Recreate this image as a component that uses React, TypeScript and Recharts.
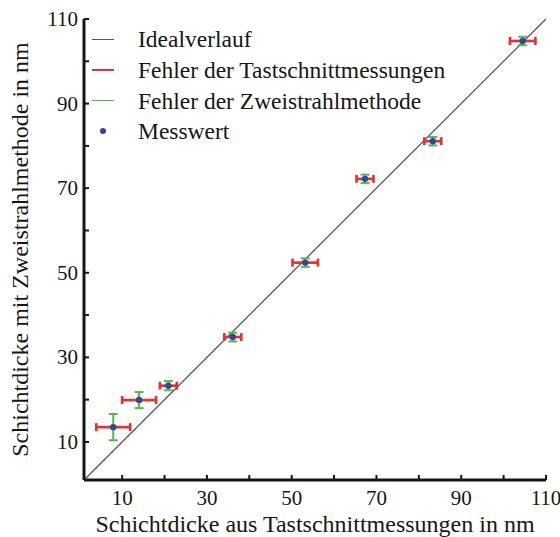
import { ScatterChart, Scatter, XAxis, YAxis, ErrorBar, ReferenceLine } from 'recharts';

// Tastschnitt (x) vs. Zweistrahlmethode (y), in nm
const tastschnitt = [7.9, 14, 20.9, 36.1, 53.2, 67.3, 83.3, 104.5];
const zweistrahl = [13.5, 19.9, 23.3, 34.8, 52.4, 72.2, 81.1, 104.8];
const fehlerTast = [4, 4, 2, 2, 3, 2, 2, 3];
const fehlerZwei = [3.1, 1.9, 1.1, 1.05, 1, 1, 1, 1];

const ticks = [10, 20, 30, 40, 50, 60, 70, 80, 90, 100, 110];
const domain: [number, number] = [1, 110];

const data = tastschnitt.map((x, i) => ({
  x,
  y: zweistrahl[i],
  ex: fehlerTast[i],
  ey: fehlerZwei[i],
}));

const FONT = '"Liberation Serif", "DejaVu Serif", serif';
const INK = '#161616';
const RED = '#e03535';
const GREEN = '#55b84a';
const BLUE = '#33479a';

const legendItems = [
  { label: 'Idealverlauf', color: '#555', kind: 'line' },
  { label: 'Fehler der Tastschnittmessungen', color: RED, kind: 'line' },
  { label: 'Fehler der Zweistrahlmethode', color: GREEN, kind: 'line' },
  { label: 'Messwert', color: BLUE, kind: 'dot' },
];

const label = (v: number) => v % 20 === 10;

function BottomTick({ x, y, payload }: any) {
  return (
    <g>
      <line x1={x} y1={y} x2={x} y2={y - 5} stroke={INK} strokeWidth={2} />
      {label(payload.value) && (
        <text x={x} y={y + 25} textAnchor="middle" fontSize={21} style={{ fontFamily: FONT }} fill={INK}>
          {payload.value}
        </text>
      )}
    </g>
  );
}

function LeftTick({ x, y, payload }: any) {
  return (
    <g>
      <line x1={x} y1={y} x2={x + 5} y2={y} stroke={INK} strokeWidth={2} />
      {label(payload.value) && (
        <text x={x - 6} y={y + 7} textAnchor="end" fontSize={21} style={{ fontFamily: FONT }} fill={INK}>
          {payload.value}
        </text>
      )}
    </g>
  );
}

function TopTick({ x, y }: any) {
  return <line x1={x} y1={y} x2={x} y2={y + 5} stroke={INK} strokeWidth={2} />;
}

function RightTick({ x, y }: any) {
  return <line x1={x} y1={y} x2={x - 5} y2={y} stroke={INK} strokeWidth={2} />;
}

function Dot({ cx, cy }: any) {
  return <circle cx={cx} cy={cy} r={3.2} fill={BLUE} />;
}

export default function App() {
  return (
    <div style={{ position: 'absolute', left: 0, top: 0, width: 560, height: 537, background: '#fff', fontFamily: FONT }}>
      <ScatterChart width={560} height={537} margin={{ top: 19, right: 14, bottom: 0, left: 0 }}>
        <XAxis
          xAxisId="b"
          type="number"
          dataKey="x"
          domain={domain}
          ticks={ticks}
          interval={0}
          height={57}
          tickSize={0}
          tickMargin={0}
          tick={<BottomTick />}
          axisLine={{ stroke: INK, strokeWidth: 3 }}
          label={{
            value: 'Schichtdicke aus Tastschnittmessungen in nm',
            position: 'insideBottom',
            offset: 5,
            fill: INK,
            fontSize: 24,
            style: { fontFamily: FONT },
          }}
        />
        <XAxis
          xAxisId="t"
          orientation="top"
          type="number"
          domain={domain}
          ticks={ticks}
          interval={0}
          height={0}
          tickSize={0}
          tickMargin={0}
          tick={<TopTick />}
          axisLine={{ stroke: INK, strokeWidth: 3 }}
        />
        <YAxis
          yAxisId="l"
          type="number"
          dataKey="y"
          domain={domain}
          ticks={ticks}
          interval={0}
          width={84}
          tickSize={0}
          tickMargin={0}
          tick={<LeftTick />}
          axisLine={{ stroke: INK, strokeWidth: 3 }}
          label={{
            value: 'Schichtdicke mit Zweistrahlmethode in nm',
            angle: -90,
            position: 'insideLeft',
            offset: 19.5,
            fill: INK,
            fontSize: 24,
            style: { textAnchor: 'middle', fontFamily: FONT },
          }}
        />
        <YAxis
          yAxisId="r"
          orientation="right"
          type="number"
          domain={domain}
          ticks={ticks}
          interval={0}
          width={0}
          tickSize={0}
          tickMargin={0}
          tick={<RightTick />}
          axisLine={{ stroke: INK, strokeWidth: 3 }}
        />
        <ReferenceLine
          xAxisId="b"
          yAxisId="l"
          segment={[{ x: 1, y: 1 }, { x: 110, y: 110 }]}
          stroke="#555"
          strokeWidth={1.3}
        />
        <Scatter xAxisId="b" yAxisId="l" data={data} shape={<Dot />} isAnimationActive={false}>
          <ErrorBar dataKey="ey" direction="y" stroke={GREEN} strokeWidth={2} width={4.5} />
          <ErrorBar dataKey="ex" direction="x" stroke={RED} strokeWidth={2.7} width={4} />
        </Scatter>
      </ScatterChart>
      <div style={{ position: 'absolute', left: 92, top: 24, fontFamily: FONT, fontSize: 23.5, color: INK }}>
        {legendItems.map((it) => (
          <div key={it.label} style={{ display: 'flex', alignItems: 'center', height: 30.7 }}>
            <div style={{ width: 22, display: 'flex', justifyContent: 'center', marginRight: 24 }}>
              {it.kind === 'line' ? (
                <div style={{ width: 22, height: 1.5, background: it.color }} />
              ) : (
                <div style={{ width: 6, height: 6, borderRadius: 3, background: it.color }} />
              )}
            </div>
            <span style={{ lineHeight: '30px' }}>{it.label}</span>
          </div>
        ))}
      </div>
    </div>
  );
}
